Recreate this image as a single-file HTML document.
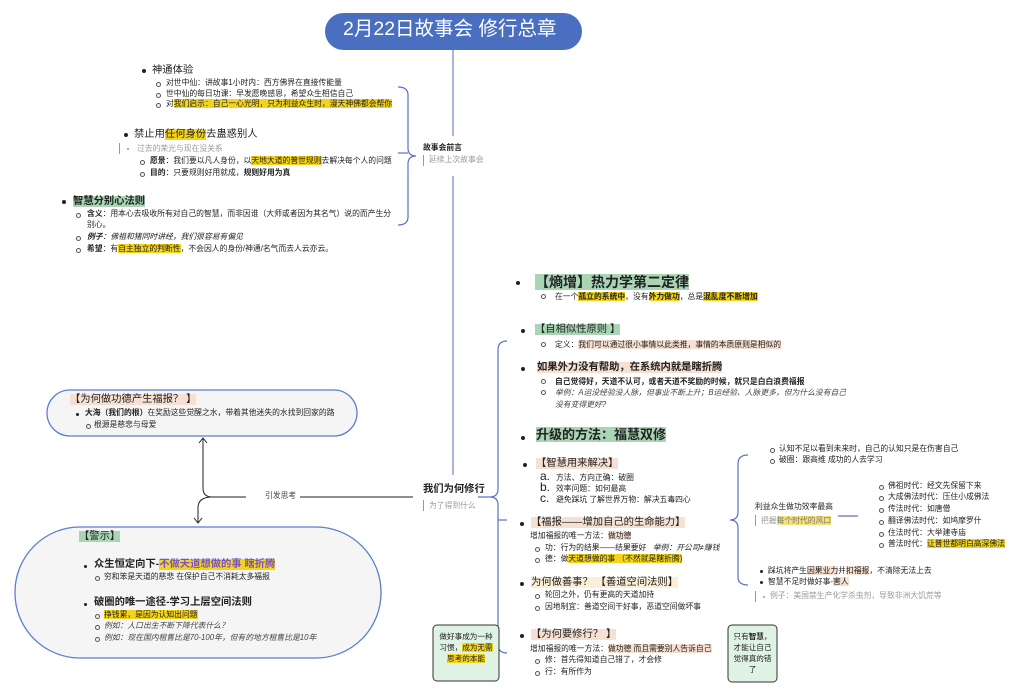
<!DOCTYPE html>
<html><head><meta charset="utf-8"><style>
html,body{margin:0;padding:0;background:#fff;}
body{width:1023px;height:696px;position:relative;overflow:hidden;font-family:"Liberation Sans","Noto Sans CJK SC",sans-serif;color:#222;}
.t{position:absolute;white-space:nowrap;line-height:1.15;font-size:7.8px;}
.h{font-size:10.3px !important;}
.b{font-weight:bold;}
.g{color:#999;}
.i{font-style:italic;}
.hy{background:#f3d41a;}
.hg{background:#a9d5b5;}
.hp{background:#f5e0d2;}
.dot{position:absolute;width:4px;height:4px;border-radius:50%;background:#222;}
.cir{position:absolute;width:3px;height:3px;border-radius:50%;border:0.8px solid #555;}
.bar{position:absolute;width:1px;background:#999;}
</style></head><body>
<svg width="1023" height="696" style="position:absolute;left:0;top:0">
<rect x="325" y="13" width="257" height="37" rx="18.5" fill="#4a6fc1"/>
<line x1="453" y1="50" x2="453" y2="136" stroke="#7b8cc6" stroke-width="1.3"/>
<line x1="453" y1="176" x2="453" y2="475" stroke="#7b8cc6" stroke-width="1.3"/>
<path d="M398 87 Q408 87 408 95 L408 148 Q408 156 416 156 Q408 156 408 164 L408 217 Q408 225 398 225" fill="none" stroke="#5b72c0" stroke-width="1.2"/>
<line x1="398" y1="153" x2="408" y2="153" stroke="#5b72c0" stroke-width="1.2"/>
<path d="M507 341 Q498 341 498 350 L498 489 Q498 497 490 497 Q498 497 498 505 L498 644 Q498 653 507 653" fill="none" stroke="#5b72c0" stroke-width="1.2"/>
<line x1="498" y1="520" x2="507" y2="520" stroke="#5b72c0" stroke-width="1.2"/>
<line x1="478" y1="497" x2="490" y2="497" stroke="#5b72c0" stroke-width="1.2"/>
<path d="M748 455 Q738 455 738 464 L738 512 Q738 520 730 520 Q738 520 738 528 L738 577 Q738 585 748 585" fill="none" stroke="#5b72c0" stroke-width="1.2"/>
<line x1="838" y1="516" x2="858" y2="516" stroke="#5b72c0" stroke-width="1.2"/>
<rect x="47" y="390" width="310" height="46" rx="23" fill="#f5f5f5" stroke="#5b7ed0" stroke-width="1.3"/>
<rect x="15" y="527" width="366" height="131" rx="65" fill="#f5f5f5" stroke="#5b7ed0" stroke-width="1.3"/>
<line x1="413" y1="497" x2="300" y2="497" stroke="#222" stroke-width="1"/>
<line x1="246" y1="497" x2="212" y2="497" stroke="#222" stroke-width="1"/>
<path d="M212 497 Q203 497 203 488 L203 439" fill="none" stroke="#222" stroke-width="1"/>
<path d="M199 443 L203 438 L207 443" fill="none" stroke="#222" stroke-width="1"/>
<path d="M212 497 Q198 497 198 508 L198 523" fill="none" stroke="#222" stroke-width="1"/>
<path d="M194 518 L198 523 L202 518" fill="none" stroke="#222" stroke-width="1"/>
<rect x="433" y="625" width="66" height="56" rx="4" fill="#dff3e4" stroke="#333" stroke-width="1"/>
<rect x="728" y="625" width="49" height="57" rx="4" fill="#dff3e4" stroke="#333" stroke-width="1"/>
</svg>

<div class="t" style="left:343px;top:18px;font-size:19.5px;color:#fff;">2月22日故事会 修行总章</div>

<!-- upper left -->
<div class="dot" style="left:142px;top:69px"></div>
<div class="t h" style="left:152px;top:65px;">神通体验</div>
<div class="cir" style="left:156px;top:82px"></div><div class="t" style="left:166px;top:79px;">对世中仙：讲故事1小时内：西方佛界在直接传能量</div>
<div class="cir" style="left:156px;top:93px"></div><div class="t" style="left:166px;top:90px;">世中仙的每日功课：早发愿晚感恩，希望众生相信自己</div>
<div class="cir" style="left:156px;top:103px"></div><div class="t" style="left:166px;top:100px;">对<span class="hy">我们启示：自己一心光明，只为利益众生时，漫天神佛都会帮你</span></div>

<div class="dot" style="left:124px;top:133px"></div>
<div class="t h" style="left:134px;top:129px;">禁止用<span class="hy">任何身份</span>去蛊惑别人</div>
<div class="bar" style="left:119px;top:143px;height:11px"></div>
<div class="dot" style="left:127px;top:148px;width:2px;height:2px;background:#999"></div>
<div class="t g" style="left:137px;top:145px;">过去的荣光与现在没关系</div>
<div class="cir" style="left:140px;top:160px"></div><div class="t" style="left:150px;top:157px;"><b>愿景</b>：我们要以凡人身份，以<span class="hy">天地大道的普世规则</span>去解决每个人的问题</div>
<div class="cir" style="left:140px;top:172px"></div><div class="t" style="left:150px;top:169px;"><b>目的</b>：只要规则好用就成，<b>规则好用为真</b></div>

<div class="dot" style="left:62px;top:200px"></div>
<div class="t b h" style="left:73px;top:196px;"><span class="hg">智慧分别心法则</span></div>
<div class="cir" style="left:76px;top:213px"></div><div class="t" style="left:87px;top:210px;"><b>含义</b>：用本心去吸收所有对自己的智慧，而非因谁（大师或者因为其名气）说的而产生分</div>
<div class="t" style="left:87px;top:221px;">别心。</div>
<div class="cir" style="left:76px;top:236px"></div><div class="t i" style="left:87px;top:233px;"><b>例子</b>：佛祖和猪同时讲经，我们很容易有偏见</div>
<div class="cir" style="left:76px;top:248px"></div><div class="t" style="left:87px;top:245px;"><b>希望</b>：有<span class="hy">自主独立的判断性</span>，不会因人的身份/神通/名气而去人云亦云。</div>

<div class="t b" style="left:423px;top:144px;">故事会前言</div>
<div class="bar" style="left:423px;top:155px;height:11px"></div>
<div class="t g" style="left:429px;top:156px;">延续上次故事会</div>

<!-- center -->
<div class="t b h" style="left:423px;top:484px;">我们为何修行</div>
<div class="bar" style="left:423px;top:500px;height:11px"></div>
<div class="t g" style="left:429px;top:502px;">为了得到什么</div>
<div class="t" style="left:265px;top:492px;color:#444;">引发思考</div>

<!-- right -->
<div class="dot" style="left:516px;top:281px"></div>
<div class="t b" style="left:535px;top:274px;font-size:14px;"><span class="hg">【熵增】热力学第二定律</span></div>
<div class="cir" style="left:541px;top:294px"></div><div class="t" style="left:555px;top:293px;">在一个<span class="hy b">孤立的系统中</span>，没有<span class="hy b">外力做功</span>，总是<span class="hy b">混乱度不断增加</span></div>

<div class="dot" style="left:521px;top:329px"></div>
<div class="t h" style="left:535px;top:324px;"><span class="hg">【自相似性原则 】</span></div>
<div class="cir" style="left:541px;top:342px"></div><div class="t" style="left:555px;top:341px;">定义：<span class="hp">我们可以通过很小事情以此类推，事情的本质原则是相似的</span></div>

<div class="dot" style="left:521px;top:367px"></div>
<div class="t b h" style="left:537px;top:362px;"><span class="hp">如果外力没有帮助，在系统内就是瞎折腾</span></div>
<div class="cir" style="left:541px;top:379px"></div><div class="t b" style="left:555px;top:378px;">自己觉得好，天道不认可，或者天道不奖励的时候，就只是白白浪费福报</div>
<div class="cir" style="left:541px;top:390px"></div><div class="t i" style="left:555px;top:389px;color:#444;">举例：A运没经验没人脉，但事业不断上升；B运经验、人脉更多，但为什么没有自己</div>
<div class="t i" style="left:555px;top:401px;color:#444;">没有变得更好?</div>

<div class="dot" style="left:521px;top:436px"></div>
<div class="t b" style="left:536px;top:428px;font-size:13px;"><span class="hg">升级的方法：福慧双修</span></div>

<div class="dot" style="left:523px;top:463px"></div>
<div class="t h" style="left:536px;top:458px;"><span class="hp">【智慧用来解决】</span></div>
<div class="t" style="left:540px;top:470px;font-size:12px;line-height:1;">a.</div><div class="t" style="left:556px;top:474px;">方法、方向正确：破圈</div>
<div class="t" style="left:540px;top:481px;font-size:12px;line-height:1;">b.</div><div class="t" style="left:556px;top:485px;">效率问题：如何最高</div>
<div class="t" style="left:540px;top:492px;font-size:12px;line-height:1;">c.</div><div class="t" style="left:556px;top:496px;">避免踩坑 了解世界万物：解决五毒四心</div>

<div class="dot" style="left:520px;top:522px"></div>
<div class="t h" style="left:531px;top:517px;"><span class="hp">【福报——增加自己的生命能力】</span></div>
<div class="t" style="left:530px;top:532px;">增加福报的唯一方法：<span class="hp">做功德</span></div>
<div class="cir" style="left:535px;top:547px"></div><div class="t" style="left:545px;top:544px;">功：行为的结果——结果要好 &nbsp;&nbsp;<i>举例：开公司≠赚钱</i></div>
<div class="cir" style="left:535px;top:558px"></div><div class="t" style="left:545px;top:555px;">德：做<span class="hy">天道想做的事 （不然就是瞎折腾)</span></div>

<div class="dot" style="left:520px;top:582px"></div>
<div class="t h" style="left:531px;top:577px;"><span class="hp" style="background:#fbefd8">为何做善事？ 【善道空间法则】</span></div>
<div class="cir" style="left:535px;top:594px"></div><div class="t" style="left:545px;top:591px;">轮回之外，仍有更高的天道加持</div>
<div class="cir" style="left:535px;top:606px"></div><div class="t" style="left:545px;top:603px;">因地制宜：善道空间干好事，恶道空间做坏事</div>

<div class="dot" style="left:520px;top:634px"></div>
<div class="t h" style="left:531px;top:629px;"><span class="hp">【为何要修行？ 】</span></div>
<div class="t" style="left:530px;top:645px;">增加福报的唯一方法：<span class="hp">做功德 而且需要别人告诉自己</span></div>
<div class="cir" style="left:535px;top:659px"></div><div class="t" style="left:545px;top:656px;">修：首先得知道自己错了，才会修</div>
<div class="cir" style="left:535px;top:671px"></div><div class="t" style="left:545px;top:668px;">行：有所作为</div>

<!-- far right -->
<div class="cir" style="left:770px;top:448px"></div><div class="t" style="left:779px;top:445px;">认知不足以看到未来时，自己的认知只是在伤害自己</div>
<div class="cir" style="left:770px;top:459px"></div><div class="t" style="left:779px;top:456px;">破圈：跟高维 成功的人去学习</div>
<div class="t" style="left:755px;top:503px;">利益众生做功效率最高</div>
<div class="bar" style="left:755px;top:515px;height:11px"></div>
<div class="t g" style="left:761px;top:517px;">把握<span style="color:#777;background:#f3e27a">每个时代的风口</span></div>
<div class="cir" style="left:879px;top:485px"></div><div class="t" style="left:888px;top:482px;">佛祖时代：经文先保留下来</div>
<div class="cir" style="left:879px;top:496px"></div><div class="t" style="left:888px;top:493px;">大成佛法时代：压住小成佛法</div>
<div class="cir" style="left:879px;top:508px"></div><div class="t" style="left:888px;top:505px;">传法时代：如唐僧</div>
<div class="cir" style="left:879px;top:520px"></div><div class="t" style="left:888px;top:517px;">翻译佛法时代：如鸠摩罗什</div>
<div class="cir" style="left:879px;top:532px"></div><div class="t" style="left:888px;top:529px;">住法时代：大举建寺庙</div>
<div class="cir" style="left:879px;top:543px"></div><div class="t" style="left:888px;top:540px;">普法时代：<span class="hy">让普世都明白高深佛法</span></div>
<div class="dot" style="left:760px;top:570px;width:3px;height:3px"></div><div class="t" style="left:768px;top:567px;">踩坑将产生<span class="hp">因果业力</span>并<span class="hp">扣福报</span>，不清除无法上去</div>
<div class="dot" style="left:760px;top:581px;width:3px;height:3px"></div><div class="t" style="left:768px;top:578px;">智慧不足时做好事-<span class="hp">害人</span></div>
<div class="bar" style="left:755px;top:591px;height:11px"></div>
<div class="dot" style="left:763px;top:596px;width:2px;height:2px;background:#999"></div><div class="t g" style="left:770px;top:592px;">例子：美国禁生产化学杀虫剂，导致非洲大饥荒等</div>

<!-- bottom boxes -->
<div class="t" style="left:433px;top:631px;width:66px;text-align:center;line-height:11px;font-size:7.6px;">做好事成为一种<br>习惯，<span class="hy">成为无需</span><br><span class="hy">思考的本能</span></div>
<div class="t" style="left:728px;top:631px;width:49px;text-align:center;line-height:11px;font-size:7.6px;">只有<b>智慧</b>，<br>才能让自己<br>觉得真的错<br>了</div>

<!-- left pills -->
<div class="t h" style="left:70px;top:394px;"><span class="hp">【为何做功德产生福报？ 】</span></div>
<div class="dot" style="left:76px;top:413px;width:3px;height:3px"></div>
<div class="t" style="left:85px;top:409px;"><b>大海（我们的根）</b>在奖励这些觉醒之水，带着其他迷失的水找到回家的路</div>
<div class="cir" style="left:86px;top:424px"></div><div class="t" style="left:94px;top:421px;">根源是慈悲与母爱</div>

<div class="t h" style="left:79px;top:531px;"><span class="hg">【警示】</span></div>
<div class="dot" style="left:84px;top:565px;width:3px;height:3px"></div>
<div class="t b h" style="left:94px;top:559px;">众生恒定向下-<span class="hy" style="color:#7a52c8">不做天道想做的事 瞎折腾</span></div>
<div class="cir" style="left:95px;top:576px"></div><div class="t" style="left:104px;top:573px;">穷和笨是天道的慈悲 在保护自己不消耗太多福报</div>
<div class="dot" style="left:84px;top:603px;width:3px;height:3px"></div>
<div class="t b h" style="left:94px;top:597px;">破圈的唯一途径-学习上层空间法则</div>
<div class="cir" style="left:95px;top:614px"></div><div class="t" style="left:104px;top:611px;"><span class="hy">挣钱累，是因为认知出问题</span></div>
<div class="cir" style="left:95px;top:625px"></div><div class="t i" style="left:104px;top:622px;color:#444;">例如：人口出生不断下降代表什么？</div>
<div class="cir" style="left:95px;top:637px"></div><div class="t i" style="left:104px;top:634px;color:#444;">例如：现在国内租售比是70-100年，但有的地方租售比是10年</div>
</body></html>
